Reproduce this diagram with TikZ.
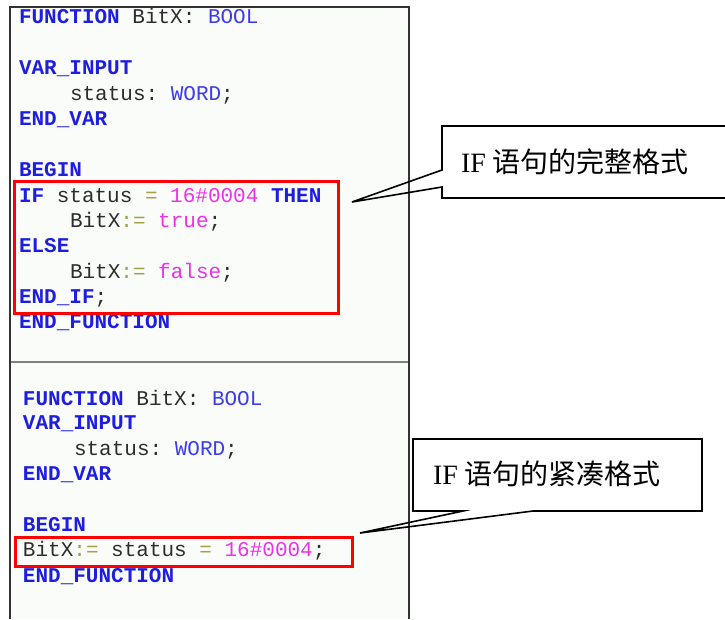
\documentclass[tikz,border=0pt]{standalone}
\usepackage{fontspec}
\setmainfont{Liberation Serif}
\setmonofont{Liberation Mono}
\newfontfamily\cjk{Noto Sans CJK SC}
\usetikzlibrary{positioning}

\definecolor{kwblue}{RGB}{30,30,225}
\definecolor{tyblue}{RGB}{60,60,235}
\definecolor{idgray}{RGB}{45,45,45}
\definecolor{opolive}{RGB}{165,160,70}
\definecolor{litpink}{RGB}{235,50,235}
\definecolor{panelbg}{RGB}{250,252,250}

\newcommand{\kw}[1]{\textcolor{kwblue}{\bfseries #1}}
\newcommand{\ty}[1]{\textcolor{tyblue}{#1}}
\newcommand{\op}[1]{\textcolor{opolive}{#1}}
\newcommand{\lit}[1]{\textcolor{litpink}{#1}}

\begin{document}
\begin{tikzpicture}[x=1pt,y=-1pt,inner sep=0pt,outer sep=0pt,
codeline/.style={anchor=base west,font=\ttfamily\fontsize{21}{21}\selectfont,text=idgray},
notetext/.style={anchor=base west,font=\fontsize{28}{28}\selectfont},
redbox/.style={draw=red,line width=3pt},
callout/.style={draw,line width=1.6pt,line join=miter}]
\useasboundingbox (0,0) rectangle (725,619);

% code panel
\fill[panelbg] (10,7) rectangle (409,619);
\draw[line width=2pt,black!80] (10,619) -- (10,7) -- (409,7) -- (409,619);
\draw[line width=2.5pt,black!50] (11,362) -- (408,362);

% full form
\draw (19,23) node[codeline] (fnA) {\kw{FUNCTION} BitX: \ty{BOOL}};
\draw (19,74) node[codeline] (varA) {\kw{VAR\_INPUT}};
\draw (70,100) node[codeline] (stA) {status: \ty{WORD};};
\draw (19,125) node[codeline] (evA) {\kw{END\_VAR}};
\draw (19,176) node[codeline] (bgA) {\kw{BEGIN}};
\draw (19,202) node[codeline] (ifA) {\kw{IF} status \op{=} \lit{16\#0004} \kw{THEN}};
\draw (70,227) node[codeline] (trA) {BitX\op{:=} \lit{true};};
\draw (19,252) node[codeline] (elA) {\kw{ELSE}};
\draw (70,278) node[codeline] (faA) {BitX\op{:=} \lit{false};};
\draw (19,303) node[codeline] (eiA) {\kw{END\_IF};};
\draw (19,328) node[codeline] (efA) {\kw{END\_FUNCTION}};
\draw[redbox] (14,181) rectangle (338,313);

% compact form
\draw (23,405) node[codeline] (fnB) {\kw{FUNCTION} BitX: \ty{BOOL}};
\draw (23,429) node[codeline] (varB) {\kw{VAR\_INPUT}};
\draw (74,455) node[codeline] (stB) {status: \ty{WORD};};
\draw (23,480) node[codeline] (evB) {\kw{END\_VAR}};
\draw (23,531) node[codeline] (bgB) {\kw{BEGIN}};
\draw (23,556) node[codeline] (asB) {BitX\op{:=} status \op{=} \lit{16\#0004};};
\draw (23,582) node[codeline] (efB) {\kw{END\_FUNCTION}};
\draw[redbox] (15,537) rectangle (352,566);

% callouts
\coordinate (tipA) at (352,202);
\coordinate (tipB) at (360,533);
\draw[callout] (442,126) -- (732,126) -- (732,198) -- (442,198) -- (442,187) -- (tipA) -- (442,170) -- cycle;
\draw[callout] (413,439) -- (702,439) -- (702,511) -- (533,511) -- (tipB) -- (463,511) -- (413,511) -- cycle;
\draw (461,172) node[notetext] (noteA) {IF {\cjk 语句的完整格式}};
\draw (433,484) node[notetext] (noteB) {IF {\cjk 语句的紧凑格式}};
\end{tikzpicture}
\end{document}
